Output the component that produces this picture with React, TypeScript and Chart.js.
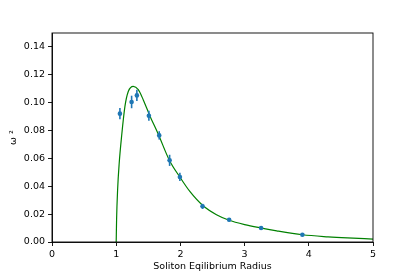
import React, { useEffect, useRef } from "react";
import { Chart, registerables } from "chart.js";

Chart.register(...registerables);

const radiusValues = [1.058, 1.24, 1.322, 1.509, 1.67, 1.832, 1.992, 2.345, 2.759, 3.257, 3.9];
const omegaSquared = [0.0921, 0.1005, 0.1052, 0.0906, 0.0765, 0.0586, 0.0467, 0.0256, 0.016, 0.01, 0.0052];
const omegaErrors = [0.004, 0.0045, 0.004, 0.0036, 0.003, 0.004, 0.003, 0.0018, 0.0012, 0.001, 0.001];

const fitRadius = [1.0, 1.006, 1.022, 1.047, 1.084, 1.136, 1.188, 1.266, 1.344, 1.422, 1.525, 1.654, 1.83, 1.99, 2.147, 2.354, 2.562, 2.75, 3.0, 3.263, 3.5, 3.9, 4.3, 4.6, 5.0];
const fitOmega = [0.0, 0.016, 0.0375, 0.0567, 0.0758, 0.0973, 0.108, 0.1117, 0.1093, 0.102, 0.0905, 0.0775, 0.0585, 0.0467, 0.0363, 0.026, 0.0196, 0.0158, 0.0125, 0.01, 0.008, 0.0052, 0.0037, 0.0029, 0.0021];

const xTicks = [0, 1, 2, 3, 4, 5];
const yTicks = [0, 0.02, 0.04, 0.06, 0.08, 0.1, 0.12, 0.14];

const FONT = "'DejaVu Sans', sans-serif";
const FS = 9.5;

const errorBarPlugin = {
  id: "errorBars",
  afterDatasetsDraw(chart: any) {
    const ctx = chart.ctx;
    const xs = chart.scales.x;
    const ys = chart.scales.y;
    ctx.save();
    ctx.beginPath();
    const a = chart.chartArea;
    ctx.rect(a.left, a.top, a.right - a.left, a.bottom - a.top);
    ctx.clip();
    ctx.strokeStyle = "#1f77b4";
    ctx.lineWidth = 1.6;
    radiusValues.forEach((r, i) => {
      const px = xs.getPixelForValue(r);
      const y1 = ys.getPixelForValue(omegaSquared[i] - omegaErrors[i]);
      const y2 = ys.getPixelForValue(omegaSquared[i] + omegaErrors[i]);
      ctx.beginPath();
      ctx.moveTo(px, y1);
      ctx.lineTo(px, y2);
      ctx.stroke();
    });
    ctx.restore();
  },
};

const framePlugin = {
  id: "frame",
  afterDraw(chart: any) {
    const a = chart.chartArea;
    const ctx = chart.ctx;
    ctx.save();
    ctx.strokeStyle = "#000";
    ctx.lineWidth = 0.9;
    ctx.strokeRect(a.left, a.top, a.right - a.left, a.bottom - a.top);
    ctx.restore();
  },
};

export default function App() {
  const ref = useRef<HTMLCanvasElement | null>(null);
  useEffect(() => {
    if (!ref.current) return;
    const chart = new Chart(ref.current, {
      type: "scatter",
      data: {
        datasets: [
          {
            label: "fit",
            type: "line",
            data: fitRadius.map((x, i) => ({ x, y: fitOmega[i] })),
            borderColor: "#008000",
            borderWidth: 1.2,
            pointRadius: 0,
            fill: false,
            cubicInterpolationMode: "monotone",
            order: 1,
          } as any,
          {
            label: "data",
            data: radiusValues.map((x, i) => ({ x, y: omegaSquared[i] })),
            backgroundColor: "#1f77b4",
            borderColor: "#1f77b4",
            pointRadius: 2.3,
            borderWidth: 0,
            showLine: false,
            order: 0,
          },
        ],
      },
      options: {
        animation: false,
        responsive: false,
        maintainAspectRatio: false,
        layout: { padding: { left: 0, right: 42, top: 33, bottom: 0 } },
        plugins: { legend: { display: false }, tooltip: { enabled: false } },
        scales: {
          x: {
            type: "linear",
            min: 0,
            max: 5,
            afterBuildTicks: (s: any) => {
              s.ticks = xTicks.map((v) => ({ value: v }));
            },
            afterFit: (s: any) => {
              s.height = 35;
            },
            grid: { drawOnChartArea: false, drawTicks: true, tickLength: 4, color: "#000", tickWidth: 0.9 },
            border: { display: true, color: "#000", width: 0.9 },
            ticks: {
              color: "#000",
              font: { family: FONT, size: FS },
              padding: 3,
              maxRotation: 0,
              callback: (v: any) => String(v),
            },
            title: {
              display: true,
              text: "Soliton Eqilibrium Radius",
              color: "#000",
              font: { family: FONT, size: FS },
              padding: { top: 0, bottom: 5 },
            },
          },
          y: {
            type: "linear",
            min: 0,
            max: 0.15,
            afterBuildTicks: (s: any) => {
              s.ticks = yTicks.map((v) => ({ value: v }));
            },
            afterFit: (s: any) => {
              s.width = 52;
            },
            grid: { drawOnChartArea: false, drawTicks: true, tickLength: 4, color: "#000", tickWidth: 0.9 },
            border: { display: true, color: "#000", width: 0.9 },
            ticks: {
              color: "#000",
              font: { family: FONT, size: FS },
              padding: 3,
              callback: (v: any) => Number(v).toFixed(2),
            },
            title: {
              display: true,
              text: "ω ²",
              color: "#000",
              font: { family: FONT, size: FS },
              padding: { top: 8, bottom: 0 },
            },
          },
        },
      },
      plugins: [errorBarPlugin, framePlugin],
    });
    return () => chart.destroy();
  }, []);
  return (
    <div style={{ position: "fixed", left: 0, top: 0, width: 415, height: 277, background: "#fff" }}>
      <canvas ref={ref} width={415} height={277} style={{ width: 415, height: 277 }} />
    </div>
  );
}
